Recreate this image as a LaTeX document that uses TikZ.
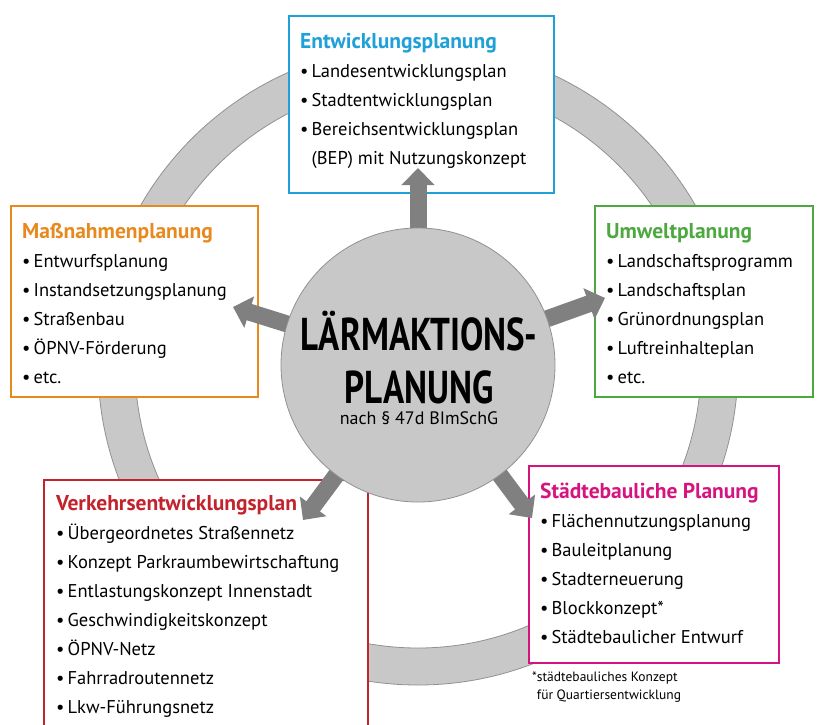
\documentclass[tikz,border=0pt]{standalone}
\usepackage{fontspec}
\usepackage{graphicx}
\setmainfont{PT Sans}
\usetikzlibrary{arrows.meta}

\definecolor{laBlau}{RGB}{30,160,216}
\definecolor{laOrange}{RGB}{232,137,30}
\definecolor{laGruen}{RGB}{77,168,64}
\definecolor{laRot}{RGB}{195,35,45}
\definecolor{laMagenta}{RGB}{214,20,128}
\definecolor{ringgrau}{RGB}{200,200,200}
\definecolor{randgrau}{RGB}{145,145,145}
\definecolor{pfeilgrau}{RGB}{128,128,128}

\newcommand{\pkt}{\textbullet\,}
\newcommand{\kopf}[2]{{\color{#1}\bfseries\fontsize{21.5}{29}\selectfont #2}}

\tikzset{
  kasten/.style={draw=#1, line width=2.2pt, fill=white, anchor=north west, inner sep=0pt},
  liste/.style={anchor=north west, align=left, inner sep=0pt, font=\fontsize{18.5}{29}\selectfont},
  pfeil/.style={draw=pfeilgrau, line width=17pt, -{Triangle[width=32pt,length=17pt]}},
  ring/.style={fill=ringgrau, draw=randgrau, line width=0.8pt},
  kreis/.style={circle, fill=ringgrau, draw=randgrau, line width=0.8pt, minimum size=274pt, inner sep=0pt},
  titel/.style={anchor=base, inner sep=0pt, text depth=0pt, font=\fontsize{46}{54}\selectfont\bfseries}
}

\begin{document}
\begin{tikzpicture}[x=1pt, y=-1pt]
\useasboundingbox (0,0) rectangle (822,724);
\coordinate (mitte) at (418,365);

% grauer Ring
\filldraw[ring, even odd rule] (mitte) circle[radius=320pt] (mitte) circle[radius=283pt];

% Kaesten
\node[kasten=laBlau, minimum width=265pt, minimum height=177pt] (ent) at (288,15) {};
\node[liste] (ent-text) at ([shift={(12,18)}]ent.north west) {\kopf{laBlau}{Entwicklungsplanung}\\
  \pkt Landesentwicklungsplan\\
  \pkt Stadtentwicklungsplan\\
  \pkt Bereichsentwicklungsplan\\
  \phantom{\pkt}(BEP) mit Nutzungskonzept};

\node[kasten=laOrange, minimum width=247pt, minimum height=191pt] (mass) at (10,205) {};
\node[liste] (mass-text) at ([shift={(12,18)}]mass.north west) {\kopf{laOrange}{Maßnahmenplanung}\\
  \pkt Entwurfsplanung\\
  \pkt Instandsetzungsplanung\\
  \pkt Straßenbau\\
  \pkt ÖPNV-Förderung\\
  \pkt etc.};

\node[kasten=laGruen, minimum width=218pt, minimum height=191pt] (umw) at (594,205) {};
\node[liste] (umw-text) at ([shift={(12,18)}]umw.north west) {\kopf{laGruen}{Umweltplanung}\\
  \pkt Landschaftsprogramm\\
  \pkt Landschaftsplan\\
  \pkt Grünordnungsplan\\
  \pkt Luftreinhalteplan\\
  \pkt etc.};

\node[kasten=laRot, minimum width=324pt, minimum height=260pt] (verk) at (43,479) {};
\node[liste] (verk-text) at ([shift={(13,16)}]verk.north west) {\kopf{laRot}{Verkehrsentwicklungsplan}\\
  \pkt Übergeordnetes Straßennetz\\
  \pkt Konzept Parkraumbewirtschaftung\\
  \pkt Entlastungskonzept Innenstadt\\
  \pkt Geschwindigkeitskonzept\\
  \pkt ÖPNV-Netz\\
  \pkt Fahrradroutennetz\\
  \pkt Lkw-Führungsnetz};

\node[kasten=laMagenta, minimum width=250pt, minimum height=197pt] (stadt) at (528,465) {};
\node[liste] (stadt-text) at ([shift={(12,18)}]stadt.north west) {\kopf{laMagenta}{Städtebauliche Planung}\\
  \pkt Flächennutzungsplanung\\
  \pkt Bauleitplanung\\
  \pkt Stadterneuerung\\
  \pkt Blockkonzept*\\
  \pkt Städtebaulicher Entwurf};

\node[anchor=north west, align=left, inner sep=0pt, font=\fontsize{13.5}{18}\selectfont] (fussnote)
  at ([shift={(4,7)}]stadt.south west) {*städtebauliches Konzept\\\phantom{*}für Quartiersentwicklung};

% Pfeile
\coordinate (spitzeN) at (418,168);
\coordinate (spitzeW) at (233,307);
\coordinate (spitzeO) at (605,298);
\coordinate (spitzeSW) at (303,520);
\coordinate (spitzeSO) at (532,518);
\foreach \s in {N,W,O,SW,SO}
  \draw[pfeil] (mitte) -- (spitze\s);

% Mitte
\node[kreis] (lap) at (mitte) {};
\node[titel] (lap-titel1) at (419,350) {\scalebox{0.76}[1]{LÄRMAKTIONS-}};
\node[titel] (lap-titel2) at (419,403) {\scalebox{0.76}[1]{PLANUNG}};
\node[anchor=base, inner sep=0pt, font=\fontsize{18}{22}\selectfont] (lap-zusatz) at (419,424) {nach § 47d BImSchG};
\end{tikzpicture}
\end{document}
